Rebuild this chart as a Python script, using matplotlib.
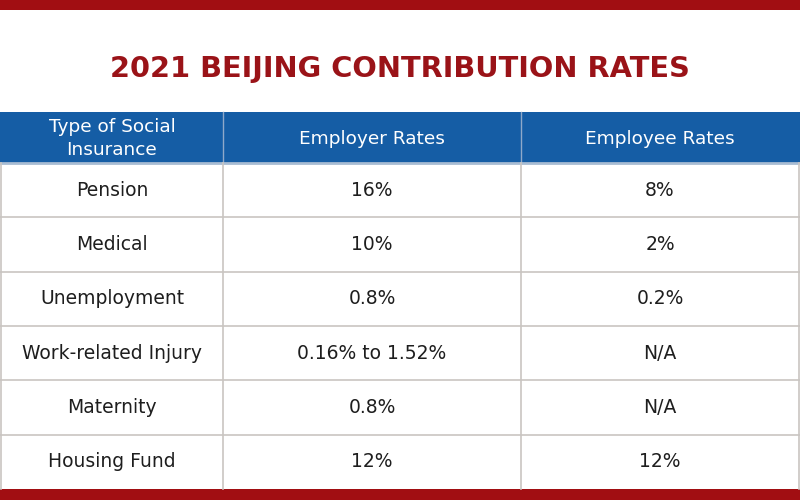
import matplotlib
matplotlib.use('Agg')
import matplotlib.pyplot as plt
from matplotlib.patches import Rectangle

# table contents
title = '2021 BEIJING CONTRIBUTION RATES'
headers = ['Type of Social\nInsurance', 'Employer Rates', 'Employee Rates']
insurance = ['Pension', 'Medical', 'Unemployment', 'Work-related Injury',
             'Maternity', 'Housing Fund']
employer = ['16%', '10%', '0.8%', '0.16% to 1.52%', '0.8%', '12%']
employee = ['8%', '2%', '0.2%', 'N/A', 'N/A', '12%']

red = '#a10e12'
blue = '#155da5'
grid = '#c9c5c1'
txt = '#1e1e1e'

plt.rcParams['font.family'] = ['DejaVu Sans']

fig = plt.figure(figsize=(8, 5), dpi=100)
ax = fig.add_axes([0, 0, 1, 1])
ax.set_xlim(0, 800)
ax.set_ylim(500, 0)
ax.axis('off')

# red bands top and bottom
ax.add_patch(Rectangle((0, 0), 800, 10, color=red, lw=0))
ax.add_patch(Rectangle((0, 489), 800, 11, color=red, lw=0))

ax.text(400, 69, title, ha='center', va='center', fontsize=20.8,
        fontweight='bold', color='#9a1318')

col_x = [1, 223, 521, 799]
head_top, head_bot = 112, 163
row_h = (489 - head_bot) / len(insurance)

# header
ax.add_patch(Rectangle((0, head_top), 800, head_bot - head_top, color=blue, lw=0))
for j, h in enumerate(headers):
    cx = (col_x[j] + col_x[j + 1]) / 2
    ax.text(cx, (head_top + head_bot) / 2 + 1, h, ha='center', va='center',
            fontsize=13.3, color='white', linespacing=1.35)
for x in col_x[1:3]:
    ax.plot([x, x], [head_top, head_bot], color='#8fa9c9', lw=1)
ax.plot([0, 800], [head_bot, head_bot], color='#a8bcd3', lw=2)

# body
cols = [insurance, employer, employee]
for i in range(len(insurance)):
    y0 = head_bot + i * row_h
    for j, col in enumerate(cols):
        cx = (col_x[j] + col_x[j + 1]) / 2
        ax.text(cx, y0 + row_h / 2, col[i], ha='center', va='center',
                fontsize=13.5, color=txt)
    if i > 0:
        ax.plot([0, 800], [y0, y0], color=grid, lw=1.2)
for x in col_x:
    ax.plot([x, x], [head_bot, 489], color=grid, lw=1.2)

fig.savefig('out.png', dpi=100)
